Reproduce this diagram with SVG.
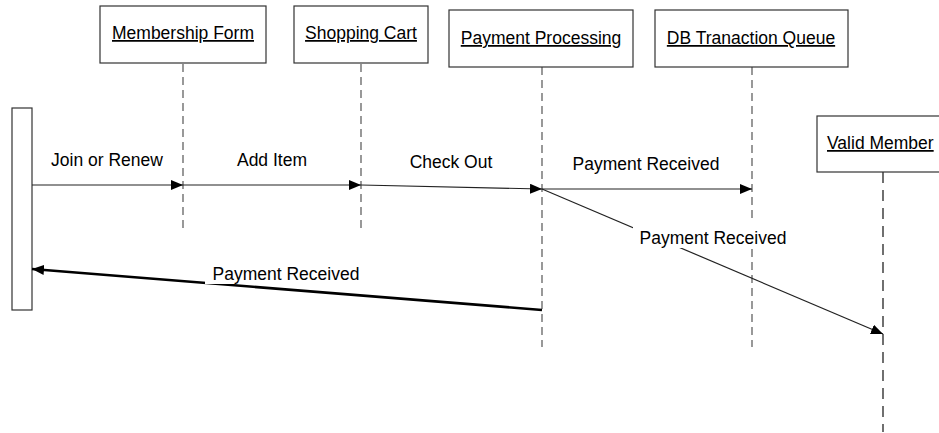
<svg xmlns="http://www.w3.org/2000/svg" width="939" height="433" viewBox="0 0 939 433">
<style>
.box{fill:#fff;stroke:#333;stroke-width:1.2}
.t{font-family:"Liberation Sans",Arial,sans-serif;font-size:17.5px;fill:#000}
.u{text-decoration:underline}
.life{stroke:#555;stroke-width:1.2;stroke-dasharray:8,5;fill:none}
.msg{stroke:#222;stroke-width:1.2;fill:none}
.bg{fill:#fff}
</style>
<defs>
<marker id="ah" markerWidth="12" markerHeight="10" refX="12" refY="5" orient="auto" markerUnits="userSpaceOnUse">
<path d="M0,0 L12,5 L0,10 Z" fill="#000"/>
</marker>
</defs>
<rect width="939" height="433" fill="#fff"/>
<g id="lifelines">
<line class="life" x1="183" y1="64" x2="183" y2="230"/>
<line class="life" x1="361" y1="64" x2="361" y2="230"/>
<line class="life" x1="542" y1="67" x2="542" y2="347"/>
<line class="life" x1="752" y1="67" x2="752" y2="347"/>
<line class="life" x1="883" y1="172" x2="883" y2="432" style="stroke:#111;stroke-dasharray:11,7"/>
</g>
<g id="actor"><rect class="box" x="12" y="108" width="20" height="202"/></g>
<g id="membership-form"><rect class="box" x="100" y="6" width="166" height="57"/><text class="t u" x="183" y="39" text-anchor="middle">Membership Form</text></g>
<g id="shopping-cart"><rect class="box" x="294" y="6" width="134" height="57"/><text class="t u" x="361" y="39" text-anchor="middle">Shopping Cart</text></g>
<g id="payment-processing"><rect class="box" x="449" y="10" width="184" height="57"/><text class="t u" x="541" y="44" text-anchor="middle">Payment Processing</text></g>
<g id="db-queue"><rect class="box" x="655" y="10" width="193" height="57"/><text class="t u" x="751" y="44" text-anchor="middle">DB Tranaction Queue</text></g>
<g id="valid-member"><rect class="box" x="817" y="116" width="140" height="56"/><text class="t u" x="827" y="149">Valid Member</text></g>
<g id="connectors">
<line class="msg" x1="32" y1="185" x2="183" y2="185" marker-end="url(#ah)"/>
<line class="msg" x1="183" y1="185" x2="361" y2="185" marker-end="url(#ah)"/>
<line class="msg" x1="361" y1="185" x2="542" y2="189" marker-end="url(#ah)"/>
<line class="msg" x1="542" y1="189" x2="752" y2="189" marker-end="url(#ah)"/>
<line class="msg" x1="542" y1="189" x2="883" y2="334" marker-end="url(#ah)"/>
<line class="msg" x1="542" y1="310" x2="32" y2="269" style="stroke:#000;stroke-width:2.6" marker-end="url(#ah)"/>
<text class="t" x="107" y="166" text-anchor="middle">Join or Renew</text>
<text class="t" x="272" y="166" text-anchor="middle">Add Item</text>
<text class="t" x="451" y="168" text-anchor="middle">Check Out</text>
<text class="t" x="646" y="170" text-anchor="middle">Payment Received</text>
<rect class="bg" x="633" y="222" width="160" height="26"/>
<text class="t" x="713" y="244" text-anchor="middle">Payment Received</text>
<rect class="bg" x="205" y="260" width="162" height="24"/>
<text class="t" x="286" y="280" text-anchor="middle">Payment Received</text>
</g>
</svg>
